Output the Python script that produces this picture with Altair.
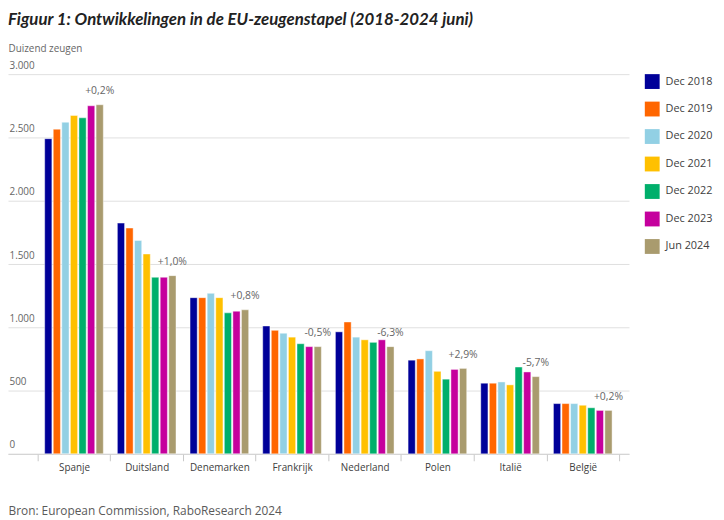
import altair as alt
import pandas as pd

countries = ["Spanje", "Duitsland", "Denemarken", "Frankrijk", "Nederland", "Polen", "Italië", "België"]
periods = ["Dec 2018", "Dec 2019", "Dec 2020", "Dec 2021", "Dec 2022", "Dec 2023", "Jun 2024"]

spanje = [2490, 2565, 2620, 2673, 2655, 2750, 2758]
duitsland = [1823, 1784, 1686, 1579, 1395, 1395, 1408]
denemarken = [1234, 1234, 1268, 1234, 1114, 1127, 1138]
frankrijk = [1010, 976, 953, 922, 870, 847, 847]
nederland = [964, 1042, 922, 901, 881, 901, 847]
polen = [740, 750, 815, 652, 590, 667, 675]
italie = [558, 558, 568, 545, 686, 647, 610]
belgie = [397, 397, 397, 384, 364, 343, 343]

changes = ["+0,2%", "+1,0%", "+0,8%", "-0,5%", "-6,3%", "+2,9%", "-5,7%", "+0,2%"]

colors = ["#000099", "#FF6600", "#92D0E4", "#FFC000", "#00AF6B", "#C5009D", "#A99B6E"]

series = [spanje, duitsland, denemarken, frankrijk, nederland, polen, italie, belgie]

rows = []
for c, vals in zip(countries, series):
    for p, v in zip(periods, vals):
        rows.append({"land": c, "periode": p, "waarde": v})
df = pd.DataFrame(rows)

lab_df = pd.DataFrame({
    "land": countries,
    "periode": [periods[-1]] * len(countries),
    "waarde": [vals[-1] for vals in series],
    "label": changes,
})

FONT = "Open Sans"

x_enc = alt.X(
    "land:N", sort=countries,
    scale=alt.Scale(paddingInner=0, paddingOuter=0.272, align=0.75),
    axis=alt.Axis(
        title="Bron: European Commission, RaboResearch 2024",
        titleAnchor="start", titleAlign="left", titleX=0, titleY=57,
        titleBaseline="middle", titleFontSize=12, titleFontWeight="normal",
        titleColor="#5a5a5a", titleFont=FONT,
        labelAngle=0, labelFont=FONT, labelFontSize=10, labelColor="#404040",
        labelPadding=2, tickBand="extent", ticks=True, tickSize=7,
        tickColor="#c8c8c8", domainColor="#d0d0d0", grid=False,
    ),
)
xoff_enc = alt.XOffset(
    "periode:N", sort=periods,
    scale=alt.Scale(paddingInner=0.16, paddingOuter=0.82),
)

bars = alt.Chart(df).mark_bar(stroke="white", strokeWidth=0.8, strokeOpacity=0.55).encode(
    x=x_enc,
    xOffset=xoff_enc,
    y=alt.Y(
        "waarde:Q",
        scale=alt.Scale(domain=[0, 3000], nice=False),
        axis=alt.Axis(
            values=[0, 500, 1000, 1500, 2000, 2500, 3000],
            labelExpr="replace(format(datum.value, ','), ',', '.')",
            title="Duizend zeugen", titleAngle=0, titleAlign="left",
            titleBaseline="middle", titleX=0, titleY=-26,
            titleFont=FONT, titleFontSize=10, titleFontWeight="normal",
            titleColor="#666666",
            labelFont=FONT, labelFontSize=10, labelColor="#666666",
            labelAlign="left", labelBaseline="alphabetic", labelOffset=-6,
            labelPadding=-1, ticks=False, tickSize=0, domain=False,
            grid=True, gridColor="#e0e0e0", gridWidth=1,
        ),
    ),
    color=alt.Color(
        "periode:N", sort=periods,
        scale=alt.Scale(domain=periods, range=colors),
        legend=alt.Legend(
            title=None, orient="right", offset=16, padding=0,
            symbolType="square", symbolSize=225, symbolStrokeWidth=0,
            labelFont=FONT, labelFontSize=11, labelColor="#404040",
            rowPadding=12.8, labelOffset=6,
        ),
    ),
)

labels = alt.Chart(lab_df).mark_text(
    dy=-14, fontSize=10.5, color="#666666", font=FONT, baseline="middle"
).encode(
    x=alt.X("land:N", sort=countries),
    xOffset=alt.XOffset("periode:N", sort=periods),
    y=alt.Y("waarde:Q"),
    text="label:N",
)

chart = alt.layer(bars, labels).properties(
    width=628,
    height=384,
    title=alt.TitleParams(
        "Figuur 1: Ontwikkelingen in de EU-zeugenstapel (2018-2024 juni)",
        anchor="start", font="Lato", fontSize=17, fontWeight="bold",
        fontStyle="italic", color="#222222", baseline="bottom", offset=-2,
    ),
    autosize=alt.AutoSizeParams(type="none"),
    padding={"left": 0, "top": 64, "right": 88, "bottom": 62},
    background="white",
).configure_view(stroke=None)

chart.save("out.html", embed_options={"renderer": "svg", "actions": False})
